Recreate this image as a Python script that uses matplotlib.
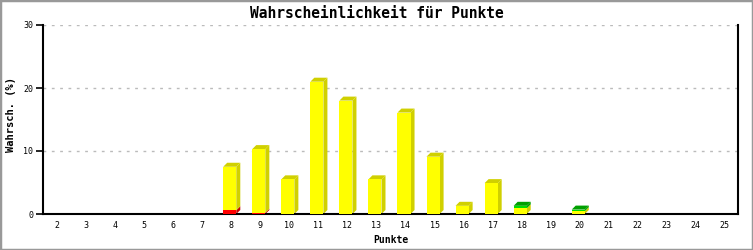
"""
Wahrscheinlichkeit fuer Punkte - gestapelte Balken mit 3D-Kante.
"""

import numpy as np
import matplotlib
matplotlib.use('Agg')
import matplotlib.pyplot as plt
from matplotlib.patches import Polygon, Rectangle

# --- data -------------------------------------------------------------
punkte = list(range(2, 26))
red_vals = {8: 0.6, 9: 0.2}
yellow_vals = {8: 6.9, 9: 10.1, 10: 5.5, 11: 21.0, 12: 18.0, 13: 5.5,
               14: 16.1, 15: 9.1, 16: 1.3, 17: 4.9, 18: 0.9, 20: 0.45}
green_vals = {18: 0.4, 20: 0.25}

red = [red_vals.get(p, 0) for p in punkte]
yellow = [yellow_vals.get(p, 0) for p in punkte]
green = [green_vals.get(p, 0) for p in punkte]

series = [
    (red, '#FF0000', '#C80000'),
    (yellow, '#FFFF00', '#D0D000'),
    (green, '#00DD00', '#00A000'),
]

MONO = 'DejaVu Sans Mono'

fig = plt.figure(figsize=(7.53, 2.5), dpi=100)
ax = fig.add_axes([43 / 753, 1 - 214 / 250, (738 - 43) / 753, (214 - 25) / 250])

xmin, xmax = 1.52, 25.45
ymin, ymax = 0, 30
ax.set_xlim(xmin, xmax)
ax.set_ylim(ymin, ymax)

# 3D depth in pixels converted to data units
ax_w_px = 738 - 43
ax_h_px = 214 - 25
dx = 4 * (xmax - xmin) / ax_w_px
dy = 4 * (ymax - ymin) / ax_h_px

width = 0.45
offset = -0.05  # front face sits a bit left of the tick

bottoms = np.zeros(len(punkte))
totals = np.array(red) + np.array(yellow) + np.array(green)
for vals, front, dark in series:
    vals = np.array(vals, dtype=float)
    for i, p in enumerate(punkte):
        h = vals[i]
        if h <= 0:
            continue
        x0 = p + offset - width / 2
        x1 = x0 + width
        y0 = bottoms[i]
        y1 = y0 + h
        # side face
        ax.add_patch(Polygon([(x1, y0), (x1 + dx, y0 + dy), (x1 + dx, y1 + dy), (x1, y1)],
                             closed=True, facecolor=dark, edgecolor='none', zorder=2))
        # top face only on the top segment
        if abs(y1 - totals[i]) < 1e-9:
            ax.add_patch(Polygon([(x0, y1), (x0 + dx, y1 + dy), (x1 + dx, y1 + dy), (x1, y1)],
                                 closed=True, facecolor=dark, edgecolor='none', zorder=2))
        ax.add_patch(Rectangle((x0, y0), width, h, facecolor=front,
                               edgecolor='none', zorder=3))
    bottoms += vals

# grid
ax.set_yticks([0, 10, 20, 30])
ax.yaxis.grid(True, color='#BBBBBB', linestyle=(0, (2, 4)), linewidth=1)
ax.set_axisbelow(True)
ax.set_xticks(punkte)
ax.set_xticklabels([str(p) for p in punkte], fontfamily=MONO, fontsize=6)
ax.set_yticklabels(['0', '10', '20', '30'], fontfamily=MONO, fontsize=6)
ax.tick_params(axis='x', length=0, pad=5)
ax.tick_params(axis='y', length=5, width=1.2, direction='out', pad=2)

for side in ['left', 'bottom', 'right']:
    ax.spines[side].set_linewidth(1.5)
    ax.spines[side].set_color('black')
ax.spines['top'].set_visible(False)

ax.set_xlabel('Punkte', fontfamily=MONO, fontsize=7, fontweight='bold', va='center')
ax.xaxis.set_label_coords(0.5, (214 - 240) / 189)
ax.set_ylabel('Wahrsch. (%)', fontfamily=MONO, fontsize=7.5, fontweight='bold',
              va='center')
ax.yaxis.set_label_coords((11 - 43) / 695, (214 - 115) / 189)
fig.text(0.5, 1 - 13 / 250, 'Wahrscheinlichkeit für Punkte', ha='center', va='center',
         fontfamily=MONO, fontsize=10.5, fontweight='bold')

# grey frame around the image
fig.patches.append(Rectangle((0, 0), 1, 1, transform=fig.transFigure, fill=False,
                             edgecolor='#999999', linewidth=2.5))

fig.savefig('out.png', dpi=100)
